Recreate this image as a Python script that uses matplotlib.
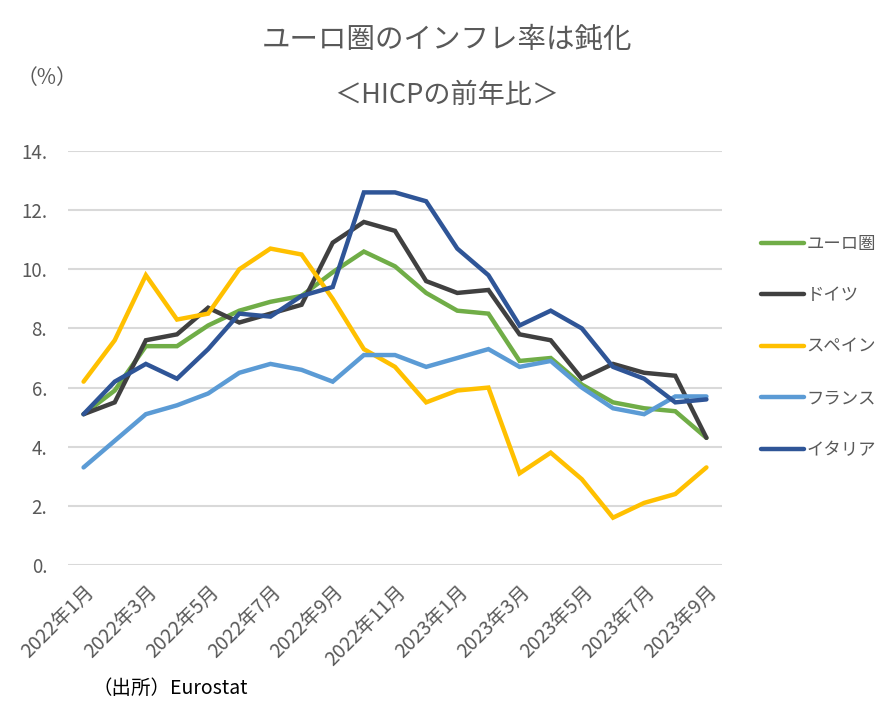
import matplotlib
matplotlib.use("Agg")
import matplotlib.pyplot as plt

plt.rcParams["font.family"] = ["Noto Sans CJK JP", "DejaVu Sans"]

# --- data (HICP, y/y %) ---
months = [
    "2022年1月", "2022年2月", "2022年3月", "2022年4月", "2022年5月", "2022年6月",
    "2022年7月", "2022年8月", "2022年9月", "2022年10月", "2022年11月", "2022年12月",
    "2023年1月", "2023年2月", "2023年3月", "2023年4月", "2023年5月", "2023年6月",
    "2023年7月", "2023年8月", "2023年9月",
]
euro = [5.1, 5.9, 7.4, 7.4, 8.1, 8.6, 8.9, 9.1, 9.9, 10.6, 10.1, 9.2,
        8.6, 8.5, 6.9, 7.0, 6.1, 5.5, 5.3, 5.2, 4.3]
germany = [5.1, 5.5, 7.6, 7.8, 8.7, 8.2, 8.5, 8.8, 10.9, 11.6, 11.3, 9.6,
           9.2, 9.3, 7.8, 7.6, 6.3, 6.8, 6.5, 6.4, 4.3]
spain = [6.2, 7.6, 9.8, 8.3, 8.5, 10.0, 10.7, 10.5, 9.0, 7.3, 6.7, 5.5,
         5.9, 6.0, 3.1, 3.8, 2.9, 1.6, 2.1, 2.4, 3.3]
france = [3.3, 4.2, 5.1, 5.4, 5.8, 6.5, 6.8, 6.6, 6.2, 7.1, 7.1, 6.7,
          7.0, 7.3, 6.7, 6.9, 6.0, 5.3, 5.1, 5.7, 5.7]
italy = [5.1, 6.2, 6.8, 6.3, 7.3, 8.5, 8.4, 9.1, 9.4, 12.6, 12.6, 12.3,
         10.7, 9.8, 8.1, 8.6, 8.0, 6.7, 6.3, 5.5, 5.6]

series = [
    ("ユーロ圏", euro, "#70AD47"),
    ("ドイツ", germany, "#404040"),
    ("スペイン", spain, "#FFC000"),
    ("フランス", france, "#5B9BD5"),
    ("イタリア", italy, "#2F5597"),
]
yticks = [0, 2, 4, 6, 8, 10, 12, 14]

TXT = "#595959"
W, H = 892, 726

fig = plt.figure(figsize=(W / 100, H / 100), dpi=100)
ax = fig.add_axes([68 / W, 1 - 565 / H, (722 - 68) / W, (565 - 151) / H])

x = list(range(len(months)))
for label, vals, color in series:
    ax.plot(x, vals, color=color, linewidth=3.2, label=label,
            solid_capstyle="round", solid_joinstyle="miter")

ax.set_xlim(-0.5, len(months) - 0.5)
ax.set_ylim(0, 14)
ax.set_yticks(yticks)
ax.set_yticklabels([f"{v}." for v in yticks], color=TXT, fontsize=13.5)
ax.set_xticks(x[::2])
ax.set_xticklabels(months[::2], rotation=45, ha="right", rotation_mode="anchor",
                   color=TXT, fontsize=14)
ax.tick_params(axis="y", length=0, pad=15)
ax.tick_params(axis="x", length=0, pad=12)
ax.grid(axis="y", color="#D9D9D9", linewidth=1.5)
ax.set_axisbelow(True)
for sp in ax.spines.values():
    sp.set_visible(False)

ax.legend(loc="upper left", bbox_to_anchor=(745 / W, 1 - 219 / H),
          bbox_transform=fig.transFigure, frameon=False, fontsize=12.5,
          handlelength=2.5, handletextpad=0.15, labelspacing=1.93,
          labelcolor=TXT)

fig.text(447 / W, 1 - 40 / H, "ユーロ圏のインフレ率は鈍化", ha="center", va="center",
         fontsize=20.5, color=TXT)
fig.text(447 / W, 1 - 95 / H, "＜HICPの前年比＞", ha="center", va="center",
         fontsize=19.5, color=TXT)
fig.text(47 / W, 1 - 78 / H, "（%）", ha="center", va="center",
         fontsize=15, color=TXT)
fig.text(92 / W, 1 - 688 / H, "（出所）Eurostat", ha="left", va="center",
         fontsize=14, color="black")

fig.savefig("out.png", dpi=100)
